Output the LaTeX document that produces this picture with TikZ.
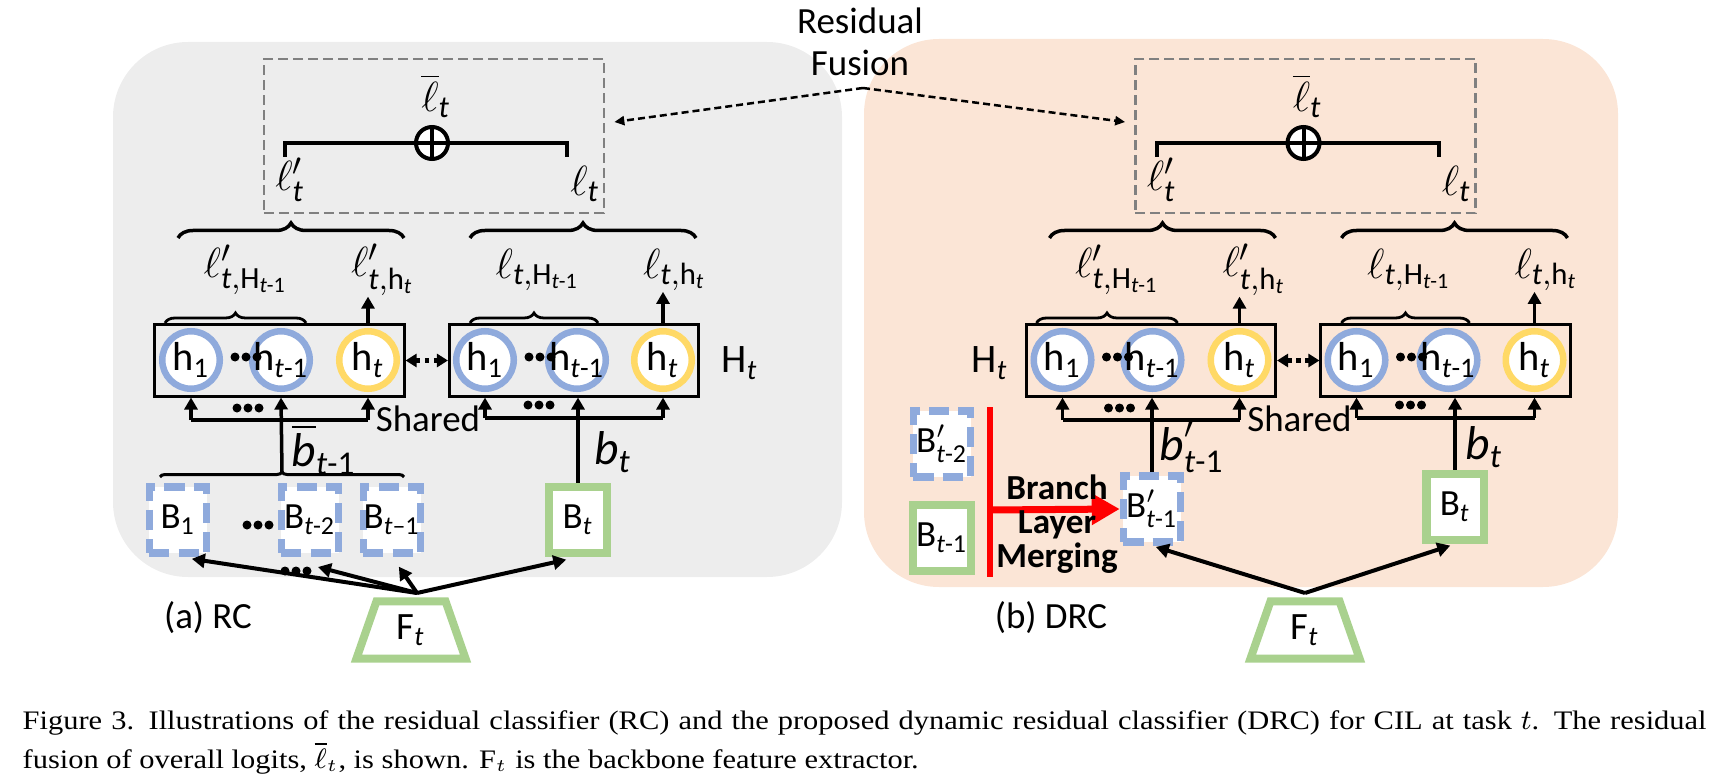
\documentclass[tikz,border=0pt]{standalone}
\usepackage{fontspec}
\usepackage{amsmath}
\setmainfont{Carlito}
\newfontfamily\capfont[FakeStretch=1.14]{Liberation Serif}
\usetikzlibrary{arrows.meta,calc,decorations.pathreplacing,shapes.geometric}

\definecolor{panelgray}{HTML}{EDEDED}
\definecolor{panelpeach}{HTML}{FBE5D6}
\definecolor{ringblue}{HTML}{8FAADC}
\definecolor{ringyellow}{HTML}{FFD966}
\definecolor{boxgreen}{HTML}{A9D18E}
\definecolor{fusegray}{HTML}{808080}

\newcommand\lowsub[1]{$_{\text{#1}}$}
\newcommand\hlab[1]{\makebox[0pt]{h\lowsub{#1}}}
\newcommand\tridots[2]{\fill (#1-11,#2) circle (4.5) (#1,#2) circle (4.5) (#1+11,#2) circle (4.5);}

\tikzset{
  lbl/.style={font=\fontsize{10.5}{12}\selectfont, inner sep=0pt},
  ell/.style={font=\fontsize{12.5}{14}\selectfont, inner sep=0pt},
  blab/.style={font=\fontsize{13.5}{14}\selectfont, inner sep=0pt},
  ring/.style={circle, fill=white, line width=0.065cm, minimum size=0.575cm, inner sep=0pt, font=\fontsize{11.5}{12}\selectfont},
  oldring/.style={ring, draw=ringblue},
  newring/.style={ring, draw=ringyellow},
  headbox/.style={draw, line width=0.03cm, minimum width=2.49cm, minimum height=0.71cm, inner sep=0pt},
  branch/.style={fill=white, minimum width=0.57cm, minimum height=0.66cm, inner sep=0pt, font=\fontsize{10.5}{11}\selectfont},
  oldbranch/.style={branch, draw=ringblue, line width=0.075cm, dash pattern=on 0.2cm off 0.09cm},
  newbranch/.style={branch, draw=boxgreen, line width=0.08cm},
  backbone/.style={trapezium, trapezium angle=75, trapezium stretches=true, draw=boxgreen, fill=white, line width=0.08cm, minimum width=1.09cm, minimum height=0.57cm, inner sep=0pt, font=\fontsize{11}{12}\selectfont},
  feed/.style={line width=0.035cm},
  up/.style={feed, -{Triangle[length=0.12cm,width=0.13cm]}},
  fan/.style={line width=0.04cm, -{Triangle[length=0.13cm,width=0.14cm]}},
  link/.style={line width=0.045cm, dash pattern=on 0.045cm off 0.045cm, {Triangle[length=0.11cm,width=0.13cm]}-{Triangle[length=0.11cm,width=0.13cm]}},
  bigbrace/.style={decorate, decoration={brace, amplitude=0.15cm}, line width=0.035cm},
  smallbrace/.style={decorate, decoration={brace, amplitude=0.1cm}, line width=0.028cm},
  flatbrace/.style={decorate, decoration={brace, amplitude=0.05cm}, line width=0.03cm},
  fusebox/.style={draw=fusegray, line width=0.025cm, dash pattern=on 0.1cm off 0.05cm, minimum width=3.4cm, minimum height=1.54cm},
  fusearrow/.style={line width=0.025cm, dash pattern=on 0.07cm off 0.04cm, -{Triangle[length=0.1cm,width=0.09cm]}},
  sumbar/.style={line width=0.04cm},
  sumnode/.style={circle, draw, fill=white, line width=0.04cm, minimum size=0.32cm, inner sep=0pt},
  redbar/.style={draw=red, line width=0.055cm},
  merge/.style={draw=red, line width=0.07cm, -{Triangle[length=0.28cm,width=0.3cm]}},
  mergelbl/.style={font=\bfseries\fontsize{10}{9.7}\selectfont, align=center, inner sep=0pt},
  capline/.style={font=\capfont\fontsize{7.6}{10}\selectfont, inner sep=0pt, anchor=base west}
}

\newcommand\headpart[1]{%
  \node[fusebox] (#1fuse) at (434,136) {};
  \draw[sumbar] (285,157) -- (285,143) -- (567,143) -- (567,157);
  \node[sumnode] (#1sum) at (432,143) {};
  \draw[sumbar] (#1sum.north) -- (#1sum.south) (#1sum.west) -- (#1sum.east);
  \node[ell] (#1lbar) at (436,96) {$\overline{\ell}_{\textit{t}}$};
  \node[ell] (#1lold) at (290,180) {$\ell'_{\textit{t}}$};
  \node[ell] (#1lnew) at (585,184) {$\ell_{\textit{t}}$};
  \draw[bigbrace] (178,238) -- (404,238);
  \draw[bigbrace] (470,238) -- (696,238);
  \node[ell] (#1loH) at (246,270) {$\ell'_{\textit{t},\text{H}_{\textit{t}\text{-1}}}$};
  \node[ell] (#1loh) at (383,270) {$\ell'_{\textit{t},\text{h}_{\textit{t}}}$};
  \node[ell] (#1lnH) at (538,270) {$\ell_{\textit{t},\text{H}_{\textit{t}\text{-1}}}$};
  \node[ell] (#1lnh) at (675,270) {$\ell_{\textit{t},\text{h}_{\textit{t}}}$};
  \node[headbox] (#1box1) at (279.5,360.5) {};
  \node[headbox] (#1box2) at (574,360.5) {};
  \node[oldring] (#1a1) at (191,360) {\hlab{1}};
  \node[oldring] (#1a2) at (281,360) {\hlab{\textit{t}-1}};
  \node[newring] (#1a3) at (368,360) {\hlab{\textit{t}}};
  \node[oldring] (#1b1) at (485,360) {\hlab{1}};
  \node[oldring] (#1b2) at (577,360) {\hlab{\textit{t}-1}};
  \node[newring] (#1b3) at (663,360) {\hlab{\textit{t}}};
  \tridots{246}{357}
  \tridots{540}{357}
  \draw[smallbrace] (165,323) -- (306,323);
  \draw[smallbrace] (470,323) -- (598,323);
  \draw[up] (#1a3 |- #1box1.north) -- (#1a3 |- #1loh.south);
  \draw[up] (#1b3 |- #1box2.north) -- (#1b3 |- #1lnh.south);
  \draw[link] (#1box1.east) -- (#1box2.west);
  \draw[feed] (#1a1 |- 0,420) -- (#1a3 |- 0,420);
  \draw[up] (#1a1 |- 0,420) -- (#1a1 |- #1box1.south);
  \draw[up] (#1a3 |- 0,420) -- (#1a3 |- #1box1.south);
  \draw[feed] (#1b1 |- 0,418) -- (#1b3 |- 0,418);
  \draw[up] (#1b1 |- 0,418) -- (#1b1 |- #1box2.south);
  \draw[up] (#1b3 |- 0,418) -- (#1b3 |- #1box2.south);
  \tridots{248}{408}
  \tridots{539}{405}
  \node[lbl] (#1shared) at (428,419) {Shared};
}

\begin{document}
\begin{tikzpicture}[x=0.01cm, y=-0.01cm]
  %%%%% START %%%%%
  \useasboundingbox (0,0) rectangle (1721,776);

  \fill[panelgray, rounded corners=0.75cm] (113,42) rectangle (842,577);
  \fill[panelpeach, rounded corners=0.75cm] (864,39) rectangle (1618,587);

  \node[lbl, align=center] (fusion) at (860,42) {Residual\\Fusion};
  \coordinate (fusiontip) at (863,88);

  \headpart{L}
  \begin{scope}[xshift=8.71cm]
    \headpart{R}
  \end{scope}

  \draw[fusearrow] (fusiontip) -- ($(Lfuse.east)+(9,-14)$);
  \draw[fusearrow] (fusiontip) -- ($(Rfuse.west)+(-9,-14)$);

  % (a) RC
  \node[lbl, font=\fontsize{11.5}{12}\selectfont] (LHt) at (740,363) {H\lowsub{\textit{t}}};
  \node[oldbranch] (LB1) at (178,520) {B\lowsub{1}};
  \node[oldbranch] (LB2) at (310,520) {B\lowsub{\textit{t}-2}};
  \node[oldbranch] (LB3) at (392,520) {B\lowsub{\textit{t}\textendash1}};
  \node[newbranch] (LBt) at (578,520) {B\lowsub{\textit{t}}};
  \tridots{258}{525}
  \draw[flatbrace] (160,477) -- (404,477);
  \coordinate (LBtip) at (282,472);
  \draw[up] (LBtip) -- (La2 |- Lbox1.south);
  \draw[up] (LBt.north) -- (LBt |- Lbox2.south);
  \node[blab] (Lbbar) at (324,449) {$\overline{\text{\textit{b}}}_{\text{\textit{t}-1}}$};
  \node[blab] (Lbt) at (613,452) {\textit{b}\lowsub{\textit{t}}};

  \node[backbone] (LF) at (411,630) {F\lowsub{\textit{t}}};
  \coordinate (Lapex) at (417,593);
  \coordinate (LBdots) at (318,567);
  \tridots{296}{571}
  \draw[fan, shorten >=0.14cm] (Lapex) -- (LB1.south);
  \draw[fan] (Lapex) -- (LBdots);
  \draw[fan, shorten >=0.12cm] (Lapex) -- (LB3.south);
  \draw[fan, shorten >=0.12cm] (Lapex) -- (LBt.south);
  \node[lbl] (Lcap) at (208,618) {(a) RC};

  % (b) DRC
  \node[lbl, font=\fontsize{11.5}{12}\selectfont] (RHt) at (990,363) {H\lowsub{\textit{t}}};
  \node[oldbranch] (RBp2) at (942,444) {B$'_{\text{\textit{t}-2}}$};
  \node[newbranch] (RBm) at (942,538) {B\lowsub{\textit{t}-1}};
  \draw[redbar] (990,407) -- (990,577);
  \coordinate (Rsplit) at (990,510);
  \node[oldbranch] (RBp1) at (1152,509) {B$'_{\text{\textit{t}-1}}$};
  \draw[merge] (Rsplit) -- (RBp1.west);
  \node[mergelbl] (Rmerge) at (1057,524) {Branch\\Layer\\Merging};
  \node[newbranch] (RBt) at (1455,507) {B\lowsub{\textit{t}}};
  \draw[up] (RBp1.north) -- (RBp1 |- Rbox1.south);
  \draw[up] (RBt.north) -- (RBt |- Rbox2.south);
  \node[blab] (Rbp) at (1192,447) {$\text{\textit{b}}'_{\text{\textit{t}-1}}$};
  \node[blab] (Rbt) at (1484,447) {\textit{b}\lowsub{\textit{t}}};

  \node[backbone] (RF) at (1305,630) {F\lowsub{\textit{t}}};
  \coordinate (Rapex) at (1305,593);
  \draw[fan, shorten >=0.04cm] (Rapex) -- (RBp1.south);
  \draw[fan, shorten >=0.05cm] (Rapex) -- (RBt.south);
  \node[lbl] (Rcap) at (1051,618) {(b) DRC};

  \node[capline] (cap1) at (22,729) {\makebox[16.83cm][s]{Figure 3. Illustrations of the residual classifier (RC) and the proposed dynamic residual classifier (DRC) for CIL at task $t$. The residual}};
  \node[capline] (cap2) at (22,768) {fusion of overall logits, $\overline{\ell}_t$, is shown. F$_t$ is the backbone feature extractor.};

  %%%%% END %%%%%
\end{tikzpicture}
\end{document}
